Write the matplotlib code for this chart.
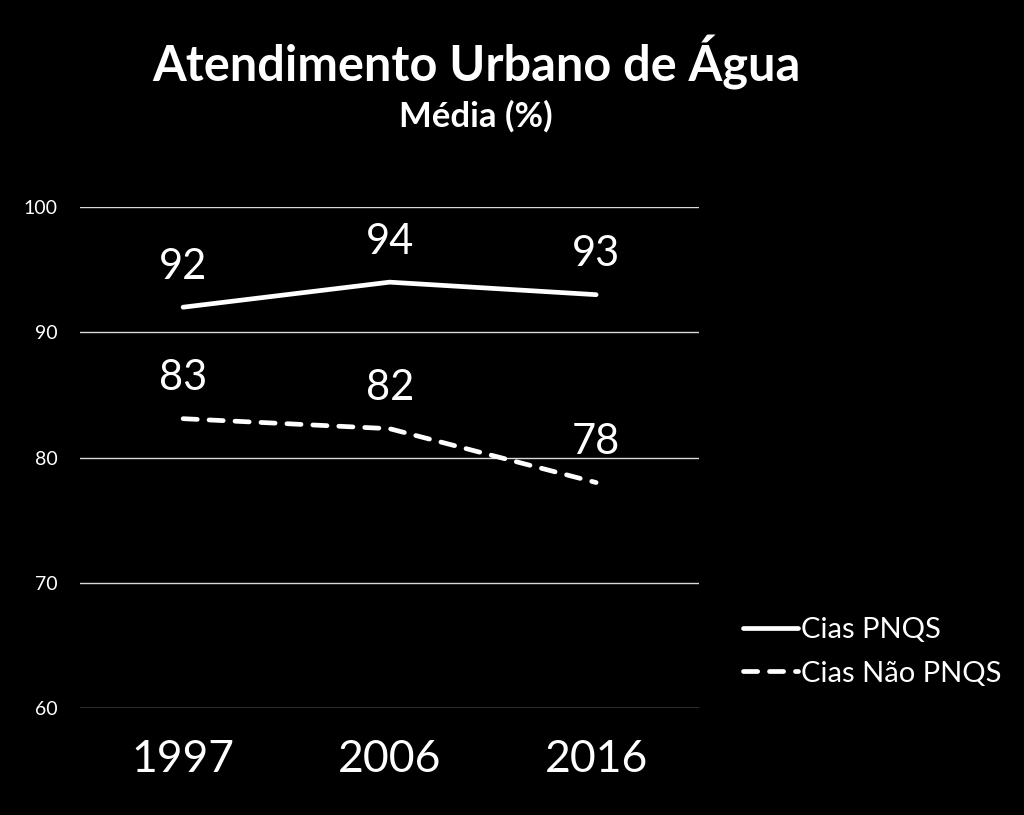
import matplotlib.pyplot as plt
from matplotlib.lines import Line2D

plt.rcParams["font.family"] = ["Lato", "DejaVu Sans"]

anos = ["1997", "2006", "2016"]
cias_pnqs = [92, 94, 93]
cias_nao_pnqs = [83.1, 82.3, 78]
rotulos_pnqs = ["92", "94", "93"]
rotulos_nao_pnqs = ["83", "82", "78"]
yticks = [60, 70, 80, 90, 100]

tracejado = (0, (3, 2.5))

fig = plt.figure(figsize=(10.24, 8.15), dpi=100, facecolor="black")
ax = fig.add_axes([0.078, 0.1313, 0.605, 0.6147], facecolor="black")

x = list(range(len(anos)))
ax.plot(x, cias_pnqs, color="white", lw=3.4, solid_capstyle="round")
ax.plot(x, cias_nao_pnqs, color="white", lw=3.4, linestyle=tracejado,
        dash_capstyle="round")

for xi, v, t in zip(x, cias_pnqs, rotulos_pnqs):
    ax.annotate(t, (xi, v), xytext=(0, 29), textcoords="offset points",
                ha="center", va="center", color="white", fontsize=30)
for xi, v, t in zip(x, cias_nao_pnqs, rotulos_nao_pnqs):
    ax.annotate(t, (xi, v), xytext=(0, 29), textcoords="offset points",
                ha="center", va="center", color="white", fontsize=30)

ax.set_xlim(-0.5, 2.5)
ax.set_ylim(60, 100)
ax.set_yticks(yticks)
ax.set_yticklabels([str(v) for v in yticks], color="white", fontsize=14)
ax.set_xticks(x)
ax.set_xticklabels(anos, color="white", fontsize=32)
ax.tick_params(axis="y", length=0, pad=16)
ax.tick_params(axis="x", length=0, pad=22)
ax.grid(axis="y", color="#d9d9d9", lw=1)
ax.set_axisbelow(True)
for s in ax.spines.values():
    s.set_visible(False)

handles = [Line2D([], [], color="white", lw=3.4, solid_capstyle="round"),
           Line2D([], [], color="white", lw=3.4, linestyle=tracejado,
                  dash_capstyle="round")]
fig.legend(handles, ["Cias PNQS", "Cias Não PNQS"], loc="upper left",
           bbox_to_anchor=(0.700, 0.275), frameon=False, fontsize=21,
           labelcolor="white", handlelength=1.9, handletextpad=0.1,
           labelspacing=0.6)

fig.text(0.465, 0.923, "Atendimento Urbano de Água", ha="center", va="center",
         color="white", fontsize=35, fontweight="bold")
fig.text(0.465, 0.857, "Média (%)", ha="center", va="center",
         color="white", fontsize=25, fontweight="bold")

fig.savefig("out.png", dpi=100, facecolor="black")
